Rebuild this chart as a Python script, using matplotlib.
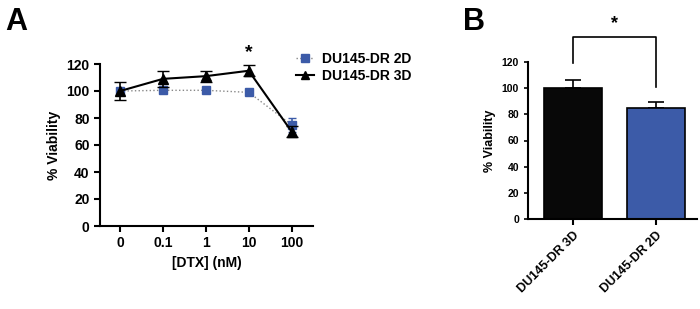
import matplotlib
matplotlib.use("Agg")
import matplotlib.pyplot as plt
from matplotlib.lines import Line2D

plt.rcParams['font.family'] = ['Liberation Sans', 'DejaVu Sans']
plt.rcParams['font.weight'] = 'bold'

# Panel A data
doses = ["0", "0.1", "1", "10", "100"]
viab_2d = [100, 100.5, 100.5, 99, 75]
err_2d = [2, 1.5, 1.5, 1.5, 5]
viab_3d = [100, 109, 111, 115, 70]
err_3d = [7, 6, 4, 4, 4]

# Panel B data
groups = ["DU145-DR 3D", "DU145-DR 2D"]
bar_vals = [100, 85]
bar_errs = [6, 4.5]

blue = "#3c5ba8"

fig = plt.figure(figsize=(7, 3.09), dpi=100)

# ---- Panel A ----
axA = fig.add_axes([100/700, 1-226/309, 213/700, 162/309])
x = list(range(len(doses)))
axA.errorbar(x, viab_2d, yerr=err_2d, color="#888888", ls=":", lw=1,
             marker="s", ms=6, mfc=blue, mec=blue, ecolor=blue,
             capsize=3, elinewidth=1.2, zorder=2)
axA.errorbar(x, viab_3d, yerr=err_3d, color="black", ls="-", lw=1.5,
             marker="^", ms=6.5, mfc="black", mec="black", ecolor="black",
             capsize=4, elinewidth=1.2, zorder=3)
axA.set_xlim(-0.47, 4.5)
axA.set_ylim(0, 120)
axA.set_yticks(range(0, 121, 20))
axA.set_xticks(x)
axA.set_xticklabels(doses)
axA.set_xlabel("[DTX] (nM)", fontsize=10, fontweight="bold")
axA.set_ylabel("% Viability", fontsize=10, fontweight="bold")
for s in ["top", "right"]:
    axA.spines[s].set_visible(False)
for s in ["left", "bottom"]:
    axA.spines[s].set_linewidth(1.5)
axA.tick_params(width=1.5, length=4, labelsize=10)
axA.text(3, 122, "*", ha="center", va="bottom", fontsize=14, fontweight="bold",
         clip_on=False)
handles = [Line2D([], [], color="#888888", ls=":", lw=1, marker="s", ms=5.5,
                  mfc=blue, mec=blue),
           Line2D([], [], color="black", ls="-", lw=1.5, marker="^", ms=6,
                  mfc="black", mec="black")]
axA.legend(handles, ["DU145-DR 2D", "DU145-DR 3D"], loc="upper left",
           bbox_to_anchor=(0.86, 1.15), frameon=False, fontsize=10,
           handlelength=1.3, handletextpad=0.6, labelspacing=0.2)

# ---- Panel B ----
axB = fig.add_axes([528/700, 1-219/309, 169/700, 157/309])
bx = [0, 1]
axB.bar(bx, bar_vals, width=0.7, color=["#080808", blue], edgecolor="black",
        linewidth=1.2, zorder=2)
axB.errorbar(bx, bar_vals, yerr=[[0, 0], bar_errs], fmt="none", ecolor="black",
             capsize=6, elinewidth=1.2, capthick=1.2, zorder=1)
axB.set_xlim(-0.54, 1.49)
axB.set_ylim(0, 120)
axB.set_yticks(range(0, 121, 20))
axB.set_xticks(bx)
axB.set_xticklabels(groups, rotation=45, ha="right", rotation_mode="anchor")
axB.set_ylabel("% Viability", fontsize=9, fontweight="bold")
for s in ["top", "right"]:
    axB.spines[s].set_visible(False)
for s in ["left", "bottom"]:
    axB.spines[s].set_linewidth(1.5)
axB.tick_params(axis="y", width=1.2, length=3, labelsize=7.5)
axB.tick_params(axis="x", width=1.5, length=4, labelsize=9)
# significance bracket
axB.plot([0, 0, 1, 1], [119, 139, 139, 101], color="black", lw=1.2, clip_on=False)
axB.text(0.5, 143, "*", ha="center", va="bottom", fontsize=13, fontweight="bold")

fig.text(5/700, 1-30/309, "A", fontsize=22, fontweight="bold")
fig.text(463/700, 1-30/309, "B", fontsize=22, fontweight="bold")

fig.savefig("out.png", dpi=100)
